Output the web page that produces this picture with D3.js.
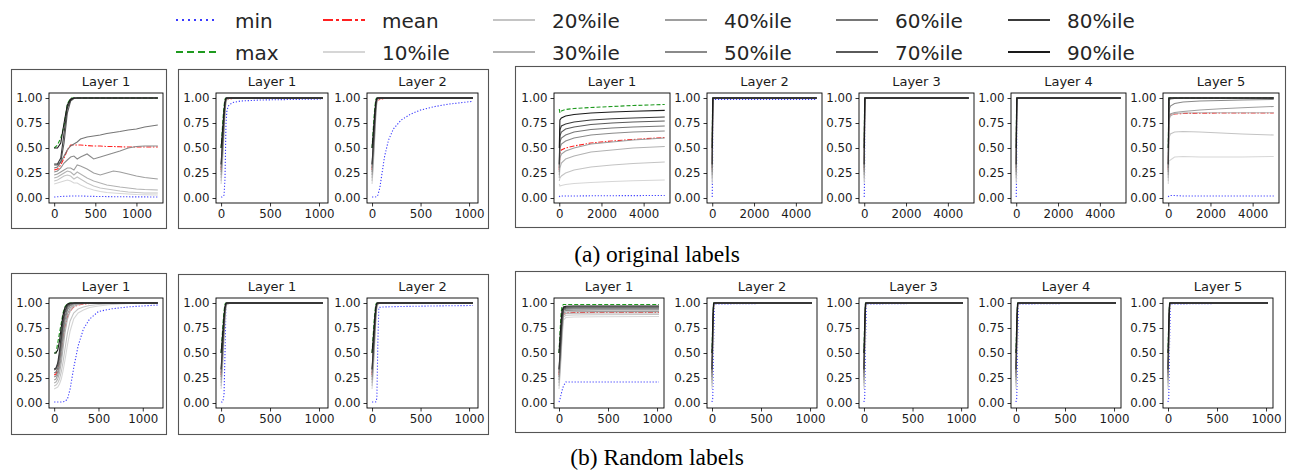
<!DOCTYPE html>
<html><head><meta charset="utf-8">
<script src="https://cdn.jsdelivr.net/npm/d3@7"></script>
<style>body{margin:0;background:#fff} svg{display:block}</style>
</head><body><svg id="c" width="1291" height="470"></svg>
<script>
// ---------------- DATA ----------------
const seriesNames = ["min","max","mean","p10","p20","p30","p40","p50","p60","p70","p80","p90"];
const legendLabels = ["min","max","mean","10%ile","20%ile","30%ile","40%ile","50%ile","60%ile","70%ile","80%ile","90%ile"];
const yTicks = [0, 0.25, 0.5, 0.75, 1.0];
const xTicks1000 = [0, 500, 1000];
const xTicks5000 = [0, 2000, 4000];
const titlesA = ["Layer 1","Layer 1","Layer 2","Layer 1","Layer 2","Layer 3","Layer 4","Layer 5"];
const titlesB = ["Layer 1","Layer 1","Layer 2","Layer 1","Layer 2","Layer 3","Layer 4","Layer 5"];
const captions = ["(a) original labels", "(b) Random labels"];

// (a) panel 1
const A1_x = [0,40,80,120,160,200,240,280,320,400,480,560,640,720,800,900,1000,1100,1260];
const A1 = [
 [0.01,0.012,0.015,0.017,0.018,0.02,0.02,0.02,0.02,0.018,0.016,0.015,0.014,0.013,0.012,0.012,0.011,0.011,0.01],
 [0.5,0.53,0.6,0.72,0.94,1,1,1,1,1,1,1,1,1,1,1,1,1,1],
 [0.28,0.29,0.33,0.4,0.48,0.53,0.53,0.53,0.53,0.525,0.52,0.52,0.515,0.515,0.512,0.51,0.51,0.51,0.51],
 [0.14,0.15,0.16,0.17,0.18,0.17,0.15,0.15,0.13,0.1,0.08,0.065,0.055,0.05,0.045,0.04,0.035,0.032,0.03],
 [0.17,0.18,0.2,0.22,0.23,0.22,0.19,0.21,0.19,0.15,0.12,0.1,0.09,0.08,0.07,0.06,0.055,0.05,0.05],
 [0.2,0.21,0.23,0.25,0.27,0.26,0.23,0.26,0.24,0.2,0.17,0.15,0.13,0.12,0.11,0.1,0.09,0.085,0.08],
 [0.23,0.24,0.26,0.28,0.3,0.3,0.28,0.33,0.32,0.29,0.25,0.23,0.25,0.27,0.26,0.24,0.22,0.205,0.19],
 [0.26,0.27,0.3,0.35,0.38,0.41,0.42,0.39,0.41,0.44,0.39,0.41,0.43,0.45,0.47,0.5,0.515,0.52,0.52],
 [0.3,0.31,0.36,0.42,0.48,0.52,0.54,0.56,0.59,0.61,0.62,0.63,0.645,0.655,0.665,0.68,0.69,0.71,0.73],
 [0.33,0.33,0.36,0.55,0.85,0.97,0.995,1,1,1,1,1,1,1,1,1,1,1,1],
 [0.34,0.34,0.4,0.65,0.9,0.98,1,1,1,1,1,1,1,1,1,1,1,1,1],
 [0.5,0.5,0.55,0.75,0.93,0.99,1,1,1,1,1,1,1,1,1,1,1,1,1]
];
// (a) panel 2
const A2_x = [0,10,20,30,40,50,60,80,120,200,400,700,1040];
const A2 = [
 [0.01,0.01,0.015,0.03,0.2,0.75,0.88,0.93,0.955,0.97,0.98,0.985,0.99],
 [0.5,0.65,0.8,0.92,0.99,1,1,1,1,1,1,1,1],
 [0.28,0.42,0.58,0.75,0.9,0.97,0.985,0.99,0.995,1,1,1,1],
 [0.14,0.28,0.45,0.64,0.84,0.96,0.985,0.995,1,1,1,1,1],
 [0.17,0.31,0.48,0.67,0.86,0.97,0.99,1,1,1,1,1,1],
 [0.2,0.35,0.52,0.7,0.88,0.975,0.99,1,1,1,1,1,1],
 [0.23,0.38,0.55,0.73,0.9,0.98,0.995,1,1,1,1,1,1],
 [0.26,0.41,0.58,0.76,0.92,0.985,1,1,1,1,1,1,1],
 [0.3,0.45,0.61,0.78,0.93,0.99,1,1,1,1,1,1,1],
 [0.33,0.48,0.64,0.8,0.94,0.99,1,1,1,1,1,1,1],
 [0.34,0.5,0.66,0.82,0.95,0.995,1,1,1,1,1,1,1],
 [0.5,0.62,0.75,0.88,0.97,1,1,1,1,1,1,1,1]
];
// (a) panel 3
const A3_x = [0,10,20,30,40,50,60,80,100,130,170,220,300,400,500,650,800,1040];
const A3 = [
 [0.01,0.01,0.01,0.01,0.012,0.015,0.03,0.1,0.23,0.42,0.58,0.69,0.78,0.84,0.88,0.915,0.94,0.967],
 [0.5,0.65,0.8,0.92,0.99,1,1,1,1,1,1,1,1,1,1,1,1,1],
 [0.28,0.42,0.58,0.75,0.9,0.965,0.98,0.985,0.99,0.995,1,1,1,1,1,1,1,1],
 [0.14,0.28,0.45,0.64,0.84,0.96,0.985,0.995,1,1,1,1,1,1,1,1,1,1],
 [0.17,0.31,0.48,0.67,0.86,0.97,0.99,1,1,1,1,1,1,1,1,1,1,1],
 [0.2,0.35,0.52,0.7,0.88,0.975,0.99,1,1,1,1,1,1,1,1,1,1,1],
 [0.23,0.38,0.55,0.73,0.9,0.98,0.995,1,1,1,1,1,1,1,1,1,1,1],
 [0.26,0.41,0.58,0.76,0.92,0.985,1,1,1,1,1,1,1,1,1,1,1,1],
 [0.3,0.45,0.61,0.78,0.93,0.99,1,1,1,1,1,1,1,1,1,1,1,1],
 [0.33,0.48,0.64,0.8,0.94,0.99,1,1,1,1,1,1,1,1,1,1,1,1],
 [0.34,0.5,0.66,0.82,0.95,0.995,1,1,1,1,1,1,1,1,1,1,1,1],
 [0.5,0.62,0.75,0.88,0.97,1,1,1,1,1,1,1,1,1,1,1,1,1]
];
// (a) panel 4 (5-layer net, layer 1)
const A4_x = [0,30,100,300,700,1500,2500,3500,5000];
const A4 = [
 [0.01,0.02,0.02,0.02,0.02,0.022,0.023,0.024,0.025],
 [0.89,0.85,0.87,0.885,0.895,0.905,0.915,0.925,0.935],
 [0.28,0.45,0.48,0.5,0.52,0.55,0.57,0.585,0.605],
 [0.14,0.12,0.125,0.135,0.145,0.155,0.165,0.172,0.18],
 [0.17,0.2,0.22,0.25,0.28,0.31,0.33,0.345,0.36],
 [0.2,0.3,0.35,0.39,0.42,0.46,0.48,0.5,0.515],
 [0.23,0.4,0.44,0.47,0.5,0.54,0.56,0.58,0.6],
 [0.26,0.5,0.54,0.57,0.6,0.63,0.648,0.66,0.67],
 [0.3,0.56,0.6,0.63,0.66,0.685,0.7,0.71,0.72],
 [0.33,0.62,0.66,0.69,0.71,0.735,0.75,0.76,0.77],
 [0.34,0.68,0.72,0.74,0.76,0.78,0.792,0.8,0.81],
 [0.5,0.78,0.8,0.82,0.835,0.85,0.86,0.868,0.876]
];
// (a) panels 5-7
const A5_x = [0,15,30,60,5000];
const A5 = [
 [0.01,0.3,0.9,0.985,0.985],
 [0.5,0.9,1,1,1],
 [0.28,0.75,0.99,1,1],
 [0.14,0.6,0.97,1,1],
 [0.17,0.63,0.98,1,1],
 [0.2,0.66,0.98,1,1],
 [0.23,0.69,0.99,1,1],
 [0.26,0.72,0.99,1,1],
 [0.3,0.75,0.99,1,1],
 [0.33,0.78,1,1,1],
 [0.34,0.8,1,1,1],
 [0.5,0.85,1,1,1]
];
const A6_x = [0,15,30,60,5000];
const A6 = [
 [0.01,0.2,0.95,1,1],
 [0.5,0.9,1,1,1],
 [0.28,0.75,0.99,1,1],
 [0.14,0.6,0.97,1,1],
 [0.17,0.63,0.98,1,1],
 [0.2,0.66,0.98,1,1],
 [0.23,0.69,0.99,1,1],
 [0.26,0.72,0.99,1,1],
 [0.3,0.75,0.99,1,1],
 [0.33,0.78,1,1,1],
 [0.34,0.8,1,1,1],
 [0.5,0.85,1,1,1]
];
const A7_x = [0,15,30,60,5000];
const A7 = [
 [0.01,0.2,0.95,1,1],
 [0.5,0.9,1,1,1],
 [0.28,0.75,0.99,1,1],
 [0.14,0.6,0.97,1,1],
 [0.17,0.63,0.98,1,1],
 [0.2,0.66,0.98,1,1],
 [0.23,0.69,0.99,1,1],
 [0.26,0.72,0.99,1,1],
 [0.3,0.75,0.99,1,1],
 [0.33,0.78,1,1,1],
 [0.34,0.8,1,1,1],
 [0.5,0.85,1,1,1]
];
// (a) panel 8
const A8_x = [0,30,100,300,700,1500,2500,3500,5000];
const A8 = [
 [0.01,0.02,0.025,0.025,0.02,0.02,0.02,0.02,0.02],
 [0.5,1,1,1,1,1,1,1,1],
 [0.28,0.8,0.83,0.84,0.845,0.848,0.85,0.85,0.85],
 [0.14,0.37,0.38,0.41,0.415,0.41,0.41,0.41,0.415],
 [0.17,0.6,0.64,0.66,0.665,0.66,0.65,0.64,0.63],
 [0.2,0.78,0.82,0.845,0.85,0.852,0.852,0.852,0.853],
 [0.23,0.8,0.84,0.855,0.865,0.88,0.893,0.903,0.915],
 [0.26,0.88,0.92,0.945,0.96,0.97,0.975,0.98,0.985],
 [0.3,0.97,0.99,0.995,1,1,1,1,1],
 [0.33,0.99,1,1,1,1,1,1,1],
 [0.34,1,1,1,1,1,1,1,1],
 [0.5,1,1,1,1,1,1,1,1]
];
// (b) panel 1
const B1_x = [0,20,40,60,80,100,120,150,180,220,270,330,400,500,650,850,1170];
const B1 = [
 [0.01,0.01,0.01,0.01,0.01,0.012,0.015,0.04,0.14,0.35,0.57,0.74,0.84,0.915,0.942,0.962,0.98],
 [0.5,0.5,0.6,0.7,0.8,0.9,0.96,0.995,1,1,1,1,1,1,1,1,1],
 [0.28,0.29,0.33,0.41,0.52,0.65,0.76,0.86,0.92,0.96,0.98,0.99,0.995,1,1,1,1],
 [0.14,0.15,0.16,0.19,0.24,0.32,0.42,0.58,0.72,0.84,0.9,0.93,0.955,0.97,0.985,0.995,1],
 [0.17,0.18,0.2,0.24,0.31,0.41,0.53,0.7,0.82,0.9,0.94,0.96,0.975,0.985,0.993,0.998,1],
 [0.2,0.21,0.24,0.3,0.4,0.54,0.69,0.84,0.92,0.965,0.985,0.993,0.997,1,1,1,1],
 [0.23,0.24,0.28,0.35,0.46,0.61,0.76,0.89,0.95,0.98,0.99,0.997,1,1,1,1,1],
 [0.26,0.27,0.31,0.39,0.52,0.68,0.82,0.93,0.97,0.99,0.997,1,1,1,1,1,1],
 [0.3,0.31,0.35,0.44,0.58,0.74,0.86,0.95,0.98,0.995,1,1,1,1,1,1,1],
 [0.33,0.34,0.38,0.48,0.63,0.79,0.9,0.97,0.99,1,1,1,1,1,1,1,1],
 [0.34,0.35,0.4,0.52,0.68,0.83,0.92,0.98,0.995,1,1,1,1,1,1,1,1],
 [0.5,0.5,0.53,0.62,0.76,0.88,0.95,0.99,1,1,1,1,1,1,1,1,1]
];
// (b) panel 2
const B2_x = [0,10,20,30,40,50,60,100,1040];
const B2 = [
 [0.01,0.01,0.03,0.08,0.5,0.98,1,1,1],
 [0.5,0.65,0.8,0.92,0.99,1,1,1,1],
 [0.28,0.42,0.58,0.75,0.9,0.97,0.99,1,1],
 [0.14,0.28,0.45,0.64,0.84,0.96,0.985,1,1],
 [0.17,0.31,0.48,0.67,0.86,0.97,0.99,1,1],
 [0.2,0.35,0.52,0.7,0.88,0.975,0.99,1,1],
 [0.23,0.38,0.55,0.73,0.9,0.98,0.995,1,1],
 [0.26,0.41,0.58,0.76,0.92,0.985,1,1,1],
 [0.3,0.45,0.61,0.78,0.93,0.99,1,1,1],
 [0.33,0.48,0.64,0.8,0.94,0.99,1,1,1],
 [0.34,0.5,0.66,0.82,0.95,0.995,1,1,1],
 [0.5,0.62,0.75,0.88,0.97,1,1,1,1]
];
// (b) panel 3
const B3_x = [0,10,20,30,40,50,60,70,100,300,600,1040];
const B3 = [
 [0.01,0.01,0.01,0.01,0.012,0.05,0.6,0.955,0.96,0.965,0.97,0.975],
 [0.5,0.65,0.8,0.92,0.99,1,1,1,1,1,1,1],
 [0.28,0.42,0.58,0.75,0.9,0.97,0.985,0.995,1,1,1,1],
 [0.14,0.28,0.45,0.64,0.84,0.96,0.985,0.995,1,1,1,1],
 [0.17,0.31,0.48,0.67,0.86,0.97,0.99,1,1,1,1,1],
 [0.2,0.35,0.52,0.7,0.88,0.975,0.99,1,1,1,1,1],
 [0.23,0.38,0.55,0.73,0.9,0.98,0.995,1,1,1,1,1],
 [0.26,0.41,0.58,0.76,0.92,0.985,1,1,1,1,1,1],
 [0.3,0.45,0.61,0.78,0.93,0.99,1,1,1,1,1,1],
 [0.33,0.48,0.64,0.8,0.94,0.99,1,1,1,1,1,1],
 [0.34,0.5,0.66,0.82,0.95,0.995,1,1,1,1,1,1],
 [0.5,0.62,0.75,0.88,0.97,1,1,1,1,1,1,1]
];
// (b) panel 4
const B4_x = [0,10,20,30,45,70,150,400,1020];
const B4 = [
 [0.01,0.04,0.08,0.12,0.17,0.21,0.21,0.21,0.21],
 [0.5,0.7,0.88,0.97,0.985,0.985,0.985,0.985,0.985],
 [0.28,0.42,0.57,0.74,0.88,0.9,0.905,0.905,0.905],
 [0.14,0.27,0.43,0.62,0.83,0.855,0.86,0.863,0.865],
 [0.17,0.31,0.47,0.66,0.86,0.877,0.88,0.883,0.885],
 [0.2,0.35,0.51,0.7,0.88,0.895,0.898,0.9,0.9],
 [0.23,0.38,0.55,0.74,0.9,0.91,0.913,0.915,0.915],
 [0.26,0.42,0.58,0.77,0.915,0.925,0.928,0.93,0.93],
 [0.3,0.45,0.62,0.8,0.93,0.937,0.94,0.94,0.94],
 [0.33,0.48,0.65,0.82,0.94,0.947,0.95,0.95,0.95],
 [0.34,0.5,0.68,0.85,0.95,0.957,0.96,0.96,0.96],
 [0.5,0.65,0.8,0.92,0.96,0.967,0.97,0.97,0.97]
];
// (b) panels 5-8
const B5_x = [0,8,16,25,1020];
const B5 = [
 [0.01,0.05,0.6,0.99,1],
 [0.5,0.85,1,1,1],
 [0.28,0.65,0.95,1,1],
 [0.14,0.55,0.93,0.995,1],
 [0.17,0.58,0.94,1,1],
 [0.2,0.61,0.95,1,1],
 [0.23,0.64,0.96,1,1],
 [0.26,0.67,0.97,1,1],
 [0.3,0.7,0.98,1,1],
 [0.33,0.73,0.99,1,1],
 [0.34,0.76,0.99,1,1],
 [0.5,0.8,1,1,1]
];
const B6_x = B5_x, B7_x = B5_x, B8_x = B5_x;
const B6 = B5, B7 = B5, B8 = B5;

// ---------------- STYLE / LAYOUT ----------------
const styles = {
  min:  {color:"#3a3aff", dash:"1.2,1.8", ldash:"2,4"},
  max:  {color:"#1f9a1f", dash:"4,2",     ldash:"7,4"},
  mean: {color:"#ff2020", dash:"5,1.6,1.5,1.6", ldash:"10,3,3,3"},
  p10:{color:"#d6d6d6"}, p20:{color:"#c4c4c4"}, p30:{color:"#b2b2b2"},
  p40:{color:"#9e9e9e"}, p50:{color:"#8a8a8a"}, p60:{color:"#767676"},
  p70:{color:"#5a5a5a"}, p80:{color:"#3a3a3a"}, p90:{color:"#1a1a1a"}
};

const rowA = {top:93, bottom:203}, rowB = {top:298, bottom:408};
const panels = [
  {xs:A1_x, d:A1, title:titlesA[0], ticks:xTicks1000, l:49,  r:163, row:rowA},
  {xs:A2_x, d:A2, title:titlesA[1], ticks:xTicks1000, l:216, r:328, row:rowA},
  {xs:A3_x, d:A3, title:titlesA[2], ticks:xTicks1000, l:367, r:478, row:rowA},
  {xs:A4_x, d:A4, title:titlesA[3], ticks:xTicks5000, l:554, r:670, row:rowA},
  {xs:A5_x, d:A5, title:titlesA[4], ticks:xTicks5000, l:707, r:822, row:rowA},
  {xs:A6_x, d:A6, title:titlesA[5], ticks:xTicks5000, l:859, r:974, row:rowA},
  {xs:A7_x, d:A7, title:titlesA[6], ticks:xTicks5000, l:1011, r:1126, row:rowA},
  {xs:A8_x, d:A8, title:titlesA[7], ticks:xTicks5000, l:1163, r:1279, row:rowA},
  {xs:B1_x, d:B1, title:titlesB[0], ticks:xTicks1000, l:49,  r:163, row:rowB},
  {xs:B2_x, d:B2, title:titlesB[1], ticks:xTicks1000, l:216, r:328, row:rowB},
  {xs:B3_x, d:B3, title:titlesB[2], ticks:xTicks1000, l:367, r:478, row:rowB},
  {xs:B4_x, d:B4, title:titlesB[3], ticks:xTicks1000, l:554, r:664, row:rowB},
  {xs:B5_x, d:B5, title:titlesB[4], ticks:xTicks1000, l:707, r:817, row:rowB},
  {xs:B6_x, d:B6, title:titlesB[5], ticks:xTicks1000, l:859, r:968, row:rowB},
  {xs:B7_x, d:B7, title:titlesB[6], ticks:xTicks1000, l:1011, r:1121, row:rowB},
  {xs:B8_x, d:B8, title:titlesB[7], ticks:xTicks1000, l:1163, r:1273, row:rowB}
];
const frames = [
  [11,69,166,228],[178,69,488,228],[515,66,1285,227],
  [11,273,166,434],[178,274,488,434],[515,271,1285,432]
];

const svg = d3.select("#c");
const FONT = "DejaVu Sans, sans-serif";

// frames
frames.forEach(f => {
  svg.append("rect").attr("x", f[0]+0.5).attr("y", f[1]+0.5)
    .attr("width", f[2]-f[0]).attr("height", f[3]-f[1])
    .attr("fill","none").attr("stroke","#555").attr("stroke-width",1.1);
});

panels.forEach(p => {
  const xmax = d3.max(p.xs);
  const x = d3.scaleLinear().domain([-0.05*xmax, 1.05*xmax]).range([p.l, p.r]);
  const y = d3.scaleLinear().domain([-0.05, 1.05]).range([p.row.bottom, p.row.top]);
  const g = svg.append("g");

  // lines
  p.d.forEach((vals, si) => {
    const name = seriesNames[si], st = styles[name];
    const line = d3.line().x((v,i) => x(p.xs[i])).y(v => y(v));
    g.append("path").attr("d", line(vals))
      .attr("fill","none").attr("stroke", st.color)
      .attr("stroke-width", 1.1)
      .attr("stroke-dasharray", st.dash || null);
  });

  // axes
  const xa = g.append("g").attr("transform", `translate(0,${p.row.bottom})`)
    .call(d3.axisBottom(x).tickValues(p.ticks).tickSize(3.5).tickPadding(3).tickFormat(d3.format("d")));
  const ya = g.append("g").attr("transform", `translate(${p.l},0)`)
    .call(d3.axisLeft(y).tickValues(yTicks).tickSize(3.5).tickPadding(3).tickFormat(d3.format(".2f")));
  [xa, ya].forEach(a => {
    a.select(".domain").remove();
    a.selectAll("line").attr("stroke","#000").attr("stroke-width",0.8);
    a.selectAll("text").attr("font-family",FONT).attr("font-size","11.8px").attr("fill","#1a1a1a");
  });
  // spines
  g.append("rect").attr("x",p.l).attr("y",p.row.top)
    .attr("width",p.r-p.l).attr("height",p.row.bottom-p.row.top)
    .attr("fill","none").attr("stroke","#000").attr("stroke-width",0.9);
  // title
  g.append("text").attr("x",(p.l+p.r)/2).attr("y",p.row.top-7)
    .attr("text-anchor","middle").attr("font-family",FONT).attr("font-size","13px")
    .attr("fill","#1a1a1a").text(p.title);
});

// legend
const legCols = [176, 323, 493, 665, 836, 1008];
const legRows = [20, 52];
seriesNames.forEach((name, i) => {
  const col = Math.floor(i/2), row = i%2;
  const st = styles[name];
  const lx = legCols[col], ly = legRows[row];
  svg.append("line").attr("x1",lx).attr("x2",lx+42).attr("y1",ly).attr("y2",ly)
    .attr("stroke",st.color).attr("stroke-width",2)
    .attr("stroke-dasharray", st.ldash || null);
  svg.append("text").attr("x",lx+59).attr("y",ly+1)
    .attr("dominant-baseline","central")
    .attr("font-family",FONT).attr("font-size","20px").attr("fill","#262626")
    .text(legendLabels[i]);
});

// captions
[[657,262],[657,465]].forEach((c,i) => {
  svg.append("text").attr("x",c[0]).attr("y",c[1]).attr("text-anchor","middle")
    .attr("font-family","Liberation Serif, Times New Roman, serif").attr("font-size","23.5px")
    .attr("fill","#000").text(captions[i]);
});
</script></body></html>
